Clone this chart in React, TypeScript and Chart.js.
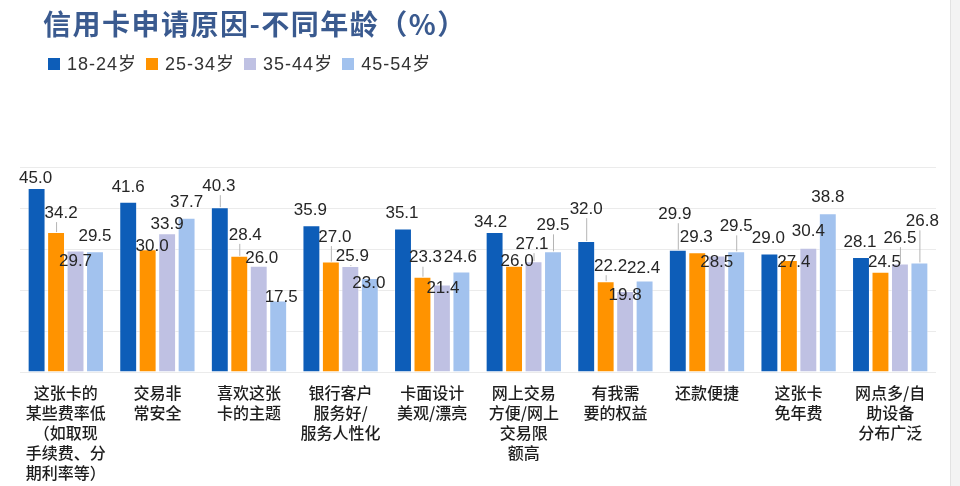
import React, { useEffect, useRef } from "react";
import { Chart, registerables } from "chart.js";

Chart.register(...registerables);

const TITLE = "信用卡申请原因-不同年龄（%）";

const categories: string[][] = [
  ["这张卡的", "某些费率低", "（如取现", "手续费、分", "期利率等）"],
  ["交易非", "常安全"],
  ["喜欢这张", "卡的主题"],
  ["银行客户", "服务好/", "服务人性化"],
  ["卡面设计", "美观/漂亮"],
  ["网上交易", "方便/网上", "交易限", "额高"],
  ["有我需", "要的权益"],
  ["还款便捷"],
  ["这张卡", "免年费"],
  ["网点多/自", "助设备", "分布广泛"],
];

const seriesNames = ["18-24岁", "25-34岁", "35-44岁", "45-54岁"];

const age18to24 = [45.0, 41.6, 40.3, 35.9, 35.1, 34.2, 32.0, 29.9, 29.0, 28.1];
const age25to34 = [34.2, 30.0, 28.4, 27.0, 23.3, 26.0, 22.2, 29.3, 27.4, 24.5];
const age35to44 = [29.7, 33.9, 26.0, 25.9, 21.4, 27.1, 19.8, 28.5, 30.4, 26.5];
const age45to54 = [29.5, 37.7, 17.5, 23.0, 24.6, 29.5, 22.4, 29.5, 38.8, 26.8];

const yTickValues = [0, 10, 20, 30, 40, 50];

const seriesColors = ["#0D5DB8", "#FF9300", "#BFC1E3", "#A2C2EE"];

// label nudges relative to the bar's top centre (styling, not data)
const labelDx = [
  [-1, 0, -1, -1, -1, -4, 0, -3, -1, -1],
  [5, 4.5, 6, 4, 3, 3, 5, -1, 5, 4],
  [0, 0, 3, 2, 1, -1.5, 0, 0, 0, 0],
  [0, 0, 3, -1, -1, 0, -1, 0, 0, 3],
];
const labelDy = [
  [-10, -14.5, -21, -15, -15.5, -9.5, -32, -35.5, -15.5, -14.5],
  [-19, -2.5, -21, -24.5, -19, -4, -15, -14.5, 2, -9],
  [11, -9, -7, -10, 3.5, -17, 4, 6.5, -16, -25.5],
  [-15, -15.5, -3, 5.5, -14.5, -26, -12.5, -25, -15.5, -41],
];
const leaders = [
  [0, 0, 1, 0, 0, 0, 1, 1, 0, 0],
  [1, 0, 1, 1, 1, 0, 1, 0, 0, 0],
  [0, 0, 0, 1, 0, 1, 0, 0, 0, 1],
  [0, 0, 0, 0, 0, 1, 0, 1, 0, 1],
];

const valueLabelPlugin = {
  id: "valueLabels",
  afterDatasetsDraw(chart: any) {
    const ctx = chart.ctx;
    ctx.save();
    ctx.font = "17px 'Liberation Sans', Arial, sans-serif";
    ctx.textAlign = "center";
    ctx.textBaseline = "middle";
    const items: any[] = [];
    chart.data.datasets.forEach((ds: any, di: number) => {
      const meta = chart.getDatasetMeta(di);
      meta.data.forEach((bar: any, i: number) => {
        const text = Number(ds.data[i]).toFixed(1);
        const lx = bar.x + labelDx[di][i];
        const ly = bar.y + labelDy[di][i];
        const w = ctx.measureText(text).width;
        items.push({ text, lx, ly, w, bx: bar.x, by: bar.y, leader: leaders[di][i] });
      });
    });
    ctx.strokeStyle = "#b5b5b5";
    ctx.lineWidth = 1;
    items.forEach((it) => {
      if (!it.leader) return;
      const ex = Math.min(Math.max(it.bx, it.lx - it.w / 2 + 3), it.lx + it.w / 2 - 3);
      ctx.beginPath();
      ctx.moveTo(it.bx + 0.5, it.by);
      ctx.lineTo(ex + 0.5, it.ly + 9);
      ctx.stroke();
    });
    ctx.fillStyle = "#262626";
    items.forEach((it) => {
      ctx.fillText(it.text, it.lx, it.ly);
    });
    ctx.restore();
  },
};

export default function App() {
  const canvasRef = useRef<HTMLCanvasElement | null>(null);

  useEffect(() => {
    if (!canvasRef.current) return;
    const seriesData = [age18to24, age25to34, age35to44, age45to54];
    const chart = new Chart(canvasRef.current, {
      type: "bar",
      data: {
        labels: categories,
        datasets: seriesNames.map((name, i) => ({
          label: name,
          data: seriesData[i],
          backgroundColor: seriesColors[i],
          borderColor: "rgba(255,255,255,0.45)",
          borderWidth: 1,
          categoryPercentage: 0.85,
          barPercentage: 0.92,
        })),
      },
      options: {
        responsive: false,
        animation: false,
        maintainAspectRatio: false,
        layout: { padding: { left: 20, right: 24, top: 167.5, bottom: 4 } },
        plugins: {
          legend: { display: false },
          title: { display: false },
          tooltip: { enabled: false },
        },
        scales: {
          x: {
            grid: { display: false, drawTicks: false },
            border: { display: false },
            ticks: {
              autoSkip: false,
              maxRotation: 0,
              minRotation: 0,
              padding: 11,
              color: "#1e1e1e",
              font: { family: "'Noto Sans CJK SC', sans-serif", size: 16, weight: "500", lineHeight: 1.25 },
            },
            afterFit: (s: any) => {
              s.height = 110;
            },
          },
          y: {
            min: 0,
            max: 50,
            afterBuildTicks: (axis: any) => {
              axis.ticks = yTickValues.map((v) => ({ value: v }));
            },
            grid: { color: "#ebebeb", drawTicks: false, lineWidth: 1 },
            border: { display: false },
            ticks: { display: false },
            afterFit: (s: any) => {
              s.width = 0;
            },
          },
        },
      },
      plugins: [valueLabelPlugin],
    });
    return () => chart.destroy();
  }, []);

  return (
    <div style={{ position: "fixed", left: 0, top: 0, width: 960, height: 486, background: "#fff" }}>
      <canvas ref={canvasRef} width={960} height={486} style={{ position: "absolute", left: 0, top: 0 }} />
      <div
        style={{
          position: "absolute",
          left: 43,
          top: 7,
          fontFamily: "'Noto Sans CJK SC', sans-serif",
          fontWeight: 700,
          fontSize: 28,
          letterSpacing: "1.5px",
          lineHeight: "32px",
          color: "#3A5A8F",
          whiteSpace: "nowrap",
        }}
      >
        {TITLE}
      </div>
      <div
        style={{
          position: "absolute",
          left: 48,
          top: 54,
          height: 20,
          display: "flex",
          alignItems: "center",
          fontFamily: "'Liberation Sans', 'Noto Sans CJK SC', sans-serif",
          fontSize: 18,
          color: "#333",
          whiteSpace: "nowrap",
        }}
      >
        {seriesNames.map((name, i) => (
          <div key={name} style={{ display: "flex", alignItems: "center", marginRight: 9 }}>
            <span style={{ display: "inline-block", width: 12, height: 12, background: seriesColors[i], marginRight: 7 }} />
            <span style={{ lineHeight: "20px", letterSpacing: "1px" }}>{name}</span>
          </div>
        ))}
      </div>
      <div
        style={{
          position: "absolute",
          left: 950,
          top: 0,
          width: 10,
          height: 486,
          background: "#f3f3f3",
          borderLeft: "1px solid #e2e2e2",
          boxSizing: "border-box",
        }}
      />
    </div>
  );
}
